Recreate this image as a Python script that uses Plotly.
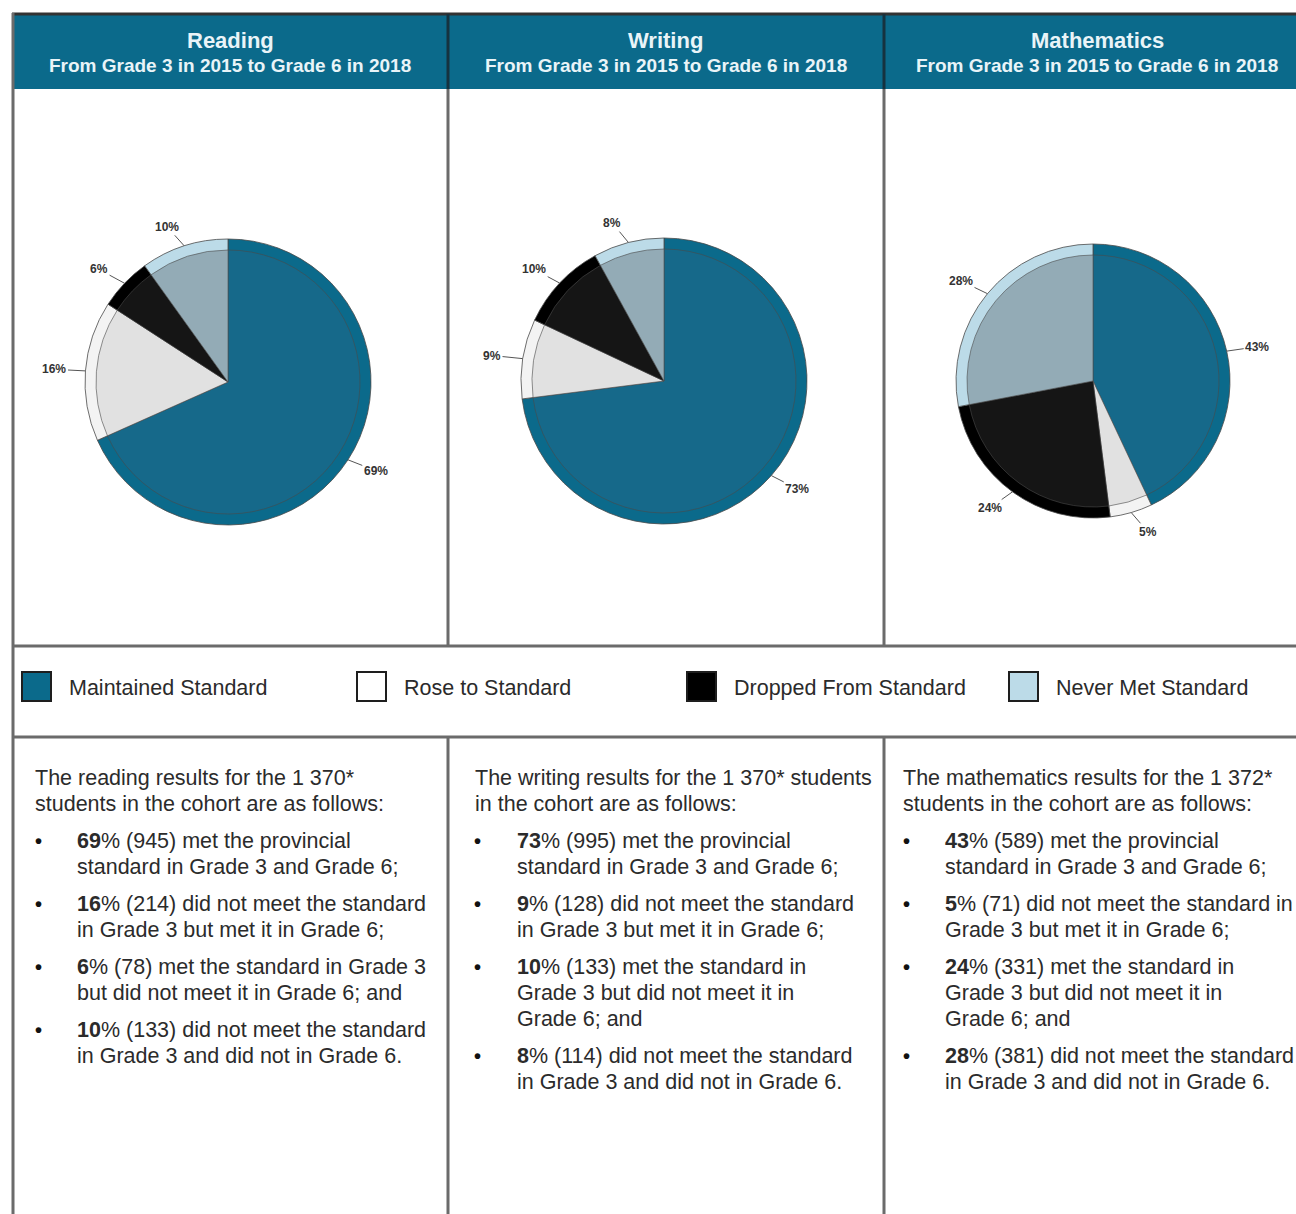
import math
import plotly.graph_objects as go

W, H = 1296, 1214

subjects = ['Reading', 'Writing', 'Mathematics']
subtitle = 'From Grade 3 in 2015 to Grade 6 in 2018'
categories = ['Maintained Standard', 'Rose to Standard',
              'Dropped From Standard', 'Never Met Standard']

reading_pct = [69, 16, 6, 10]
writing_pct = [73, 9, 10, 8]
math_pct = [43, 5, 24, 28]

reading_n = [945, 214, 78, 133]
writing_n = [995, 128, 133, 114]
math_n = [589, 71, 331, 381]

cohort_size = ['1 370', '1 370', '1 372']

# slice colours: outer rim and inner face (the original has a shaded 3d look)
rim_colors = ['#0b6a8b', '#f3f3f3', '#000000', '#bcdbe8']
face_colors = ['#16698a', '#e1e1e1', '#151515', '#93abb6']
legend_colors = ['#0b6a8b', '#ffffff', '#000000', '#bcdbe8']

FONT = 'Liberation Sans, Arial, sans-serif'
TXT = '#2b2b2b'
LINE = '#6b6b6b'


def xp(x):
    return x / W


def yp(y):
    return 1 - y / H


def label(x, y, text, size, color=TXT, xanchor='left'):
    return dict(x=xp(x), y=yp(y), xref='paper', yref='paper',
                xanchor=xanchor, yanchor='middle', text=text, showarrow=False,
                font=dict(family=FONT, size=size, color=color))


fig = go.Figure()

# ---- pies ----
pies = [
    (reading_pct, 228, 382, 143),
    (writing_pct, 664, 381, 143),
    (math_pct, 1093, 381, 137),
]
annotations = []
for vals, cx, cy, r in pies:
    for rad, cols, width in [(r, rim_colors, 0.8), (r - 11, face_colors, 0.6)]:
        fig.add_trace(go.Pie(
            labels=categories, values=vals, sort=False,
            direction='clockwise', rotation=0,
            marker=dict(colors=cols, line=dict(color='#4a4a4a', width=width)),
            textinfo='none', hoverinfo='label+percent', showlegend=False,
            domain=dict(x=[xp(cx - rad), xp(cx + rad)],
                        y=[yp(cy + rad), yp(cy - rad)]),
        ))
    # outside labels with short leader lines
    total = sum(vals)
    cum = 0
    for v in vals:
        th = math.radians((cum + v / 2) / total * 360)
        cum += v
        s, c = math.sin(th), math.cos(th)
        ex, ey = cx + r * s, cy - r * c
        d = 20
        annotations.append(dict(
            x=xp(ex), y=yp(ey), xref='paper', yref='paper',
            text=f'<b>{v}%</b>', showarrow=True, arrowhead=0,
            arrowwidth=1, arrowcolor='#555555',
            ax=d * s + (11 if s >= 0 else -11), ay=-d * c,
            font=dict(family=FONT, size=12, color='#333333'),
        ))

# ---- table frame ----
shapes = []
shapes.append(dict(type='rect', xref='paper', yref='paper',
                   x0=xp(13), x1=xp(1310), y0=yp(89), y1=yp(14),
                   fillcolor='#0b6a8b', line=dict(width=0), layer='below'))
shapes.append(dict(type='line', xref='paper', yref='paper',
                   x0=xp(12), x1=xp(1310), y0=yp(14), y1=yp(14),
                   line=dict(color='#333333', width=3)))
shapes.append(dict(type='line', xref='paper', yref='paper',
                   x0=xp(13), x1=xp(13), y0=yp(13), y1=yp(1230),
                   line=dict(color=LINE, width=3)))
for x in [448, 884]:
    shapes.append(dict(type='line', xref='paper', yref='paper',
                       x0=xp(x), x1=xp(x), y0=yp(14), y1=yp(89),
                       line=dict(color='#16323f', width=3)))
    shapes.append(dict(type='line', xref='paper', yref='paper',
                       x0=xp(x), x1=xp(x), y0=yp(89), y1=yp(646),
                       line=dict(color=LINE, width=3)))
    shapes.append(dict(type='line', xref='paper', yref='paper',
                       x0=xp(x), x1=xp(x), y0=yp(737), y1=yp(1230),
                       line=dict(color=LINE, width=3)))
for y in [646, 737]:
    shapes.append(dict(type='line', xref='paper', yref='paper',
                       x0=xp(13), x1=xp(1310), y0=yp(y), y1=yp(y),
                       line=dict(color=LINE, width=3)))

# ---- headers ----
col_centers = [230, 666, 1097]
for name, xc in zip(subjects, col_centers):
    annotations.append(label(xc, 41, f'<b>{name}</b>', 22, '#e9f4f8', 'center'))
    annotations.append(label(xc, 66, f'<b>{subtitle}</b>', 19, '#e9f4f8', 'center'))

# ---- legend row ----
legend_x = [22, 357, 687, 1009]
for cat, col, lx in zip(categories, legend_colors, legend_x):
    shapes.append(dict(type='rect', xref='paper', yref='paper',
                       x0=xp(lx), x1=xp(lx + 29), y0=yp(701), y1=yp(672),
                       fillcolor=col, line=dict(color='#1e1e1e', width=2)))
    annotations.append(label(lx + 45, 688, cat, 21.5))

# ---- text blocks ----
texts = [
    [
        [f'The reading results for the {cohort_size[0]}*',
         'students in the cohort are as follows:'],
        [f'<b>{reading_pct[0]}</b>% ({reading_n[0]}) met the provincial',
         'standard in Grade 3 and Grade 6;'],
        [f'<b>{reading_pct[1]}</b>% ({reading_n[1]}) did not meet the standard',
         'in Grade 3 but met it in Grade 6;'],
        [f'<b>{reading_pct[2]}</b>% ({reading_n[2]}) met the standard in Grade 3',
         'but did not meet it in Grade 6; and'],
        [f'<b>{reading_pct[3]}</b>% ({reading_n[3]}) did not meet the standard',
         'in Grade 3 and did not in Grade 6.'],
    ],
    [
        [f'The writing results for the {cohort_size[1]}* students',
         'in the cohort are as follows:'],
        [f'<b>{writing_pct[0]}</b>% ({writing_n[0]}) met the provincial',
         'standard in Grade 3 and Grade 6;'],
        [f'<b>{writing_pct[1]}</b>% ({writing_n[1]}) did not meet the standard',
         'in Grade 3 but met it in Grade 6;'],
        [f'<b>{writing_pct[2]}</b>% ({writing_n[2]}) met the standard in',
         'Grade 3 but did not meet it in', 'Grade 6; and'],
        [f'<b>{writing_pct[3]}</b>% ({writing_n[3]}) did not meet the standard',
         'in Grade 3 and did not in Grade 6.'],
    ],
    [
        [f'The mathematics results for the {cohort_size[2]}*',
         'students in the cohort are as follows:'],
        [f'<b>{math_pct[0]}</b>% ({math_n[0]}) met the provincial',
         'standard in Grade 3 and Grade 6;'],
        [f'<b>{math_pct[1]}</b>% ({math_n[1]}) did not meet the standard in',
         'Grade 3 but met it in Grade 6;'],
        [f'<b>{math_pct[2]}</b>% ({math_n[2]}) met the standard in',
         'Grade 3 but did not meet it in', 'Grade 6; and'],
        [f'<b>{math_pct[3]}</b>% ({math_n[3]}) did not meet the standard',
         'in Grade 3 and did not in Grade 6.'],
    ],
]
text_left = [33, 473, 901]
for paras, x0 in zip(texts, text_left):
    y = 778
    for i, para in enumerate(paras):
        for j, line in enumerate(para):
            tx = x0 if i == 0 else x0 + 42
            if i > 0 and j == 0:
                annotations.append(label(x0 + 5, y, '<b>•</b>', 20, '#111111', 'center'))
            annotations.append(label(tx, y, line, 21.5))
            y += 26
        y += 11

fig.update_layout(
    width=W, height=H,
    margin=dict(l=0, r=0, t=0, b=0),
    paper_bgcolor='white', plot_bgcolor='white',
    shapes=shapes, annotations=annotations,
    showlegend=False,
)

# drop the default page margin so the figure sits at the window's corner
fig.write_html('out.html', config={'displayModeBar': False},
               post_script="document.body.style.margin='0';"
                           "document.body.style.overflow='hidden';")
